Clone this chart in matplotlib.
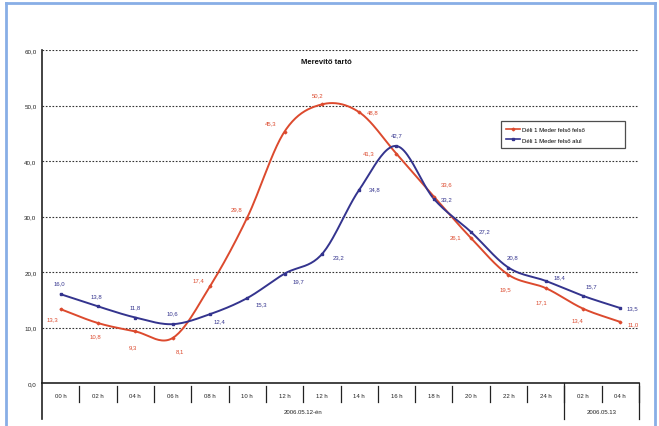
import numpy as np
import matplotlib
matplotlib.use("Agg")
import matplotlib.pyplot as plt
from matplotlib.lines import Line2D

plt.rcParams['font.family'] = ['Liberation Sans', 'DejaVu Sans']

# Data
hours = ["00 h", "02 h", "04 h", "06 h", "08 h", "10 h", "12 h", "12 h",
         "14 h", "16 h", "18 h", "20 h", "22 h", "24 h", "02 h", "04 h"]
day_groups = ["2006.05.12-én", "2006.05.13"]
day_sizes = [14, 2]
felso = [13.3, 10.8, 9.3, 8.1, 17.4, 29.8, 45.3, 50.2,
         48.8, 41.3, 33.6, 26.1, 19.5, 17.1, 13.4, 11.0]
alul = [16.0, 13.8, 11.8, 10.6, 12.4, 15.3, 19.7, 23.2,
        34.8, 42.7, 33.2, 27.2, 20.8, 18.4, 15.7, 13.5]
series_names = ["Déli 1 Meder felső felső", "Déli 1 Meder felső alul"]
title = "Merevítő tartó"
yticks = [0, 10, 20, 30, 40, 50, 60]

RED = "#dc4a2e"
BLUE = "#34348e"

# label offsets in points (dx, dy)
felso_off = [(-6, -7), (-2, -9), (-2, -11), (5, -9), (-8, 5), (-8, 6), (-10, 6), (-3, 7),
             (10, 0), (-20, 1), (9, 9), (-11, 1), (-2, -10), (-3, -10), (-4, -8), (9, -1)]
alul_off = [(-1, 8), (-1, 8), (0, 8), (0, 8), (7, -5), (10, -4), (10, -5), (12, -2),
            (11, 1), (0, 8), (9, 0), (10, 1), (3, 8), (10, 3), (6, 7), (9, 0)]


def smooth(y, n=24):
    """Catmull-Rom spline through the points (x = category index)."""
    y = np.asarray(y, float)
    p = np.concatenate([[2 * y[0] - y[1]], y, [2 * y[-1] - y[-2]]])
    xs, ys = [], []
    t = np.linspace(0, 1, n, endpoint=False)
    for i in range(1, len(p) - 2):
        p0, p1, p2, p3 = p[i - 1], p[i], p[i + 1], p[i + 2]
        seg = 0.5 * ((2 * p1) + (-p0 + p2) * t + (2 * p0 - 5 * p1 + 4 * p2 - p3) * t ** 2
                     + (-p0 + 3 * p1 - 3 * p2 + p3) * t ** 3)
        xs.append(i - 1 + t)
        ys.append(seg)
    xs.append([len(y) - 1])
    ys.append([y[-1]])
    return np.concatenate(xs), np.concatenate(ys)


fig = plt.figure(figsize=(6.59, 4.27), dpi=100)
fig.patch.set_facecolor("white")

# outer frame
frame_kw = dict(transform=fig.transFigure, color="#88aee6", lw=2)
fig.add_artist(Line2D([6 / 659, 6 / 659], [0, 1 - 4 / 427], **frame_kw))
fig.add_artist(Line2D([6 / 659, 655 / 659], [1 - 4 / 427, 1 - 4 / 427], **frame_kw))
fig.add_artist(Line2D([655 / 659, 655 / 659], [0, 1 - 4 / 427], **frame_kw))

ax = fig.add_axes([42 / 659, 1 - 384 / 427, 597 / 659, 333 / 427])
n = len(hours)
x = np.arange(n)
ax.set_xlim(-0.5, n - 0.5)
ax.set_ylim(0, 60)

for v in yticks[1:]:
    ax.axhline(v, color="#333333", lw=0.8, ls=(0, (1.5, 1.5)), zorder=1)

for s in ["top", "right"]:
    ax.spines[s].set_visible(False)
ax.spines["left"].set_color("#222222")
ax.spines["left"].set_linewidth(1.2)
ax.spines["bottom"].set_color("#222222")
ax.spines["bottom"].set_linewidth(1.2)

ax.set_yticks(yticks)
ax.set_yticklabels([f"{v},0" for v in yticks], fontsize=4.5, color="#222222")
ax.tick_params(axis="y", length=0, pad=4)
ax.set_xticks([])

# smoothed lines with markers
for vals, col, mk, ms, off in [(felso, RED, "D", 1.4, felso_off),
                               (alul, BLUE, "s", 2.0, alul_off)]:
    sx, sy = smooth(vals)
    ax.plot(sx, sy, color=col, lw=1.4, zorder=3, solid_capstyle="round")
    ax.plot(x, vals, ls="none", marker=mk, ms=ms, color=col, zorder=4)
    for xi, v, (dx, dy) in zip(x, vals, off):
        ax.annotate(f"{v:.1f}".replace(".", ","), (xi, v), xytext=(dx, dy),
                    textcoords="offset points", ha="center", va="center",
                    fontsize=4.3, color=col, zorder=6)

# category table below the axis
trans = ax.get_xaxis_transform()
ax.add_artist(Line2D([-0.5, -0.5], [0, -36 / 333], transform=trans, color="#222222",
                     lw=1.2, clip_on=False))
for k in range(1, n + 1):
    ax.add_artist(Line2D([k - 0.5, k - 0.5], [-3 / 333, -19 / 333], transform=trans,
                         color="#222222", lw=0.9, clip_on=False))
for xi, lab in zip(x, hours):
    ax.text(xi, -13 / 333, lab, transform=trans, ha="center", va="center",
            fontsize=4.3, color="#222222", clip_on=False)
start = 0
for g, size in zip(day_groups, day_sizes):
    end = start + size
    ax.add_artist(Line2D([end - 0.5, end - 0.5], [0, -36 / 333], transform=trans,
                         color="#222222", lw=0.9, clip_on=False))
    ax.text((start + end - 1) / 2, -29 / 333, g, transform=trans, ha="center", va="center",
            fontsize=4.3, color="#222222", clip_on=False)
    start = end

ax.text(0.477, 0.965, title, transform=ax.transAxes, ha="center", va="center",
        fontsize=5.5, fontweight="bold", color="#111111")

handles = [Line2D([], [], color=RED, lw=1.2, marker="D", ms=1.4),
           Line2D([], [], color=BLUE, lw=1.2, marker="s", ms=2.0)]
leg = ax.legend(handles, series_names, loc="lower left", mode="expand",
                bbox_to_anchor=(0.764, 0.697, 0.218, 0.09), fontsize=4.3,
                frameon=True, fancybox=False, handlelength=2.2, borderpad=0.9,
                labelspacing=0.9, handletextpad=0.4)
leg.get_frame().set_edgecolor("#222222")
leg.get_frame().set_linewidth(0.9)

fig.savefig("out.png", dpi=100, facecolor="white")
